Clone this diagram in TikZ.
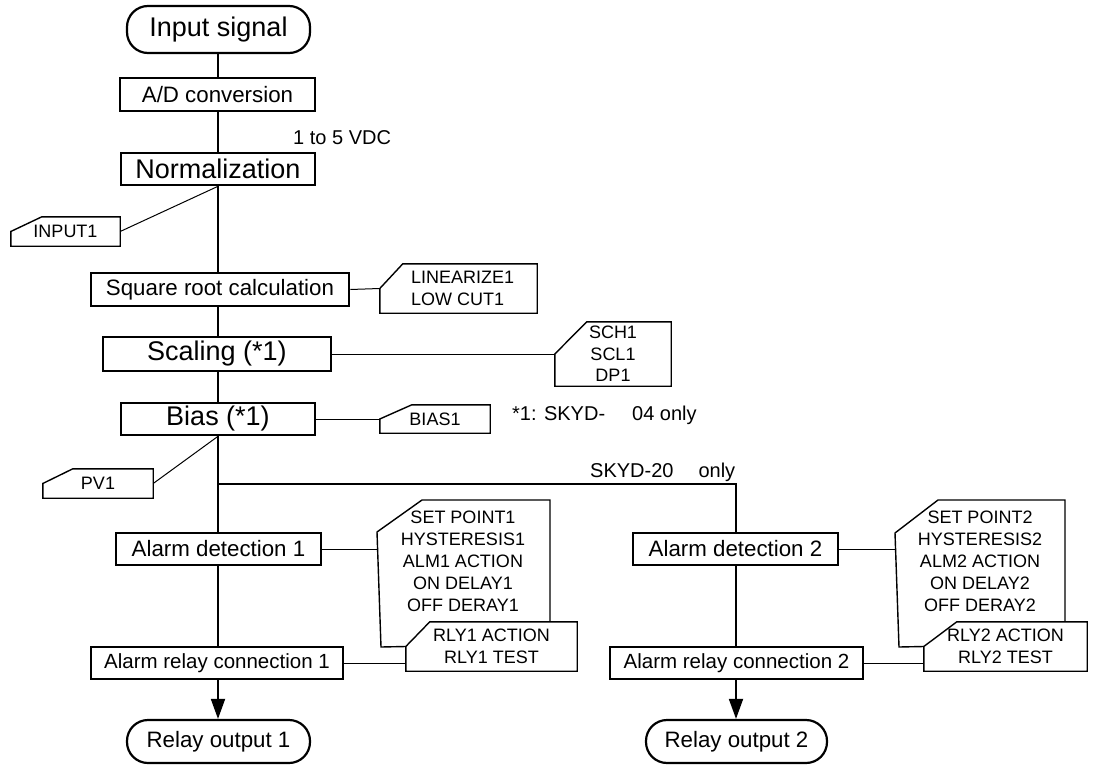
\documentclass[tikz,border=0pt]{standalone}
\usepackage{fontspec}
\setmainfont{Liberation Sans}
\usetikzlibrary{arrows.meta,calc}

% outline of a parameter box whose upper-left corner is cut off
\newcommand{\cutframe}[2]{%
  \draw[pframe] (#1.west) -- ([xshift=#2pt]#1.north west) -- (#1.north east)
    -- (#1.south east) -- (#1.south west) -- cycle;}

\begin{document}
\begin{tikzpicture}[x=1pt,y=-1pt,
  proc/.style={draw,line width=2.6pt,inner sep=0pt,minimum height=33pt},
  term/.style={draw,line width=2.2pt,rounded corners=21pt,inner sep=0pt},
  big/.style={font=\fontsize{27}{32}\selectfont},
  mid/.style={font=\fontsize{22.3}{26}\selectfont},
  small/.style={font=\fontsize{20.5}{24}\selectfont},
  ptext/.style={font=\fontsize{18}{21.5}\selectfont,align=center,inner sep=0pt},
  pbox/.style={ptext,draw=none},
  pframe/.style={line width=1.4pt,line join=miter},
  flow/.style={line width=1.8pt},
  tie/.style={line width=1pt},
  note/.style={font=\fontsize{20}{24}\selectfont,inner sep=0pt}
]
\fill[white] (0,0) rectangle (1095,765);
\useasboundingbox (0,0) rectangle (1095,765);

% columns of the two signal paths
\coordinate (col) at (218,0);
\coordinate (col2) at (736,0);
\coordinate (br) at (218,484);

% main processing chain
\node[term,big,minimum width=183pt,minimum height=47pt] (ins) at (218.5,29.5) {Input signal};
\node[proc,mid,minimum width=195pt] (ad) at (217.5,94.5) {A/D conversion};
\node[proc,big,minimum width=194pt,minimum height=32pt] (norm) at (218,169) {Normalization};
\node[proc,mid,minimum width=258pt] (sq) at (220,289.5) {Square root calculation};
\node[proc,big,minimum width=228pt,minimum height=34pt] (sc) at (217,354) {Scaling (*1)};
\node[proc,big,minimum width=194pt,minimum height=32pt] (bias) at (218,419) {Bias (*1)};
\node[proc,mid,minimum width=205pt,minimum height=32pt] (ad1) at (218.5,549) {Alarm detection 1};
\node[proc,small,minimum width=252pt,minimum height=32pt] (ar1) at (217,663) {Alarm relay connection 1};
\node[term,mid,minimum width=183pt,minimum height=43pt] (ro1) at (218.5,741.5) {Relay output 1};

\node[proc,mid,minimum width=205pt,minimum height=32pt] (ad2) at (735.5,549) {Alarm detection 2};
\node[proc,small,minimum width=253pt,minimum height=32pt] (ar2) at (736.5,663) {Alarm relay connection 2};
\node[term,mid,minimum width=181pt,minimum height=43pt] (ro2) at (736.5,741.5) {Relay output 2};

% parameter boxes
\node[pbox,minimum width=109pt,minimum height=29pt] (input1) at (65.5,231.5) {INPUT1};
\cutframe{input1}{31}
\node[pbox,minimum width=157pt,minimum height=49pt] (lin) at (458.5,288.5) {};
\cutframe{lin}{23}
\node[ptext,align=left,anchor=west] (lintext) at (411,288.5) {LINEARIZE1\\LOW CUT1};
\node[pbox,minimum width=116pt,minimum height=64pt] (sch) at (613,354) {SCH1\\SCL1\\DP1};
\cutframe{sch}{32}
\node[pbox,minimum width=110pt,minimum height=28pt] (bias1) at (435,419) {BIAS1};
\cutframe{bias1}{32}
\node[pbox,minimum width=110pt,minimum height=29pt] (pv1) at (98,483.5) {PV1};
\cutframe{pv1}{30}

\node[pbox,minimum width=171pt,minimum height=49pt] (rly1) at (491.5,646.5) {RLY1 ACTION\\RLY1 TEST};
\cutframe{rly1}{24}
\node[ptext,font=\fontsize{18}{22}\selectfont] (set1) at (463,561)
  {SET POINT1\\HYSTERESIS1\\ALM1 ACTION\\ON DELAY1\\OFF DERAY1};
\draw[pframe] (rly1.north -| 550,0) -- (550,500) -- (422,500) -- (377,532) -- (381,647) -- (rly1.west);
\coordinate (s1w) at (377.6,549);

\node[pbox,minimum width=163pt,minimum height=49pt] (rly2) at (1005.5,646.5) {RLY2 ACTION\\RLY2 TEST};
\cutframe{rly2}{33}
\node[ptext,font=\fontsize{18}{22}\selectfont] (set2) at (980,561)
  {SET POINT2\\HYSTERESIS2\\ALM2 ACTION\\ON DELAY2\\OFF DERAY2};
\draw[pframe] (rly2.north -| 1065,0) -- (1065,500) -- (938,500) -- (895,533) -- (899,647) -- (rly2.west);
\coordinate (s2w) at (895.6,549);

% notes
\node[note,anchor=base west] (vdc) at (293,145) {1 to 5 VDC};
\node[note,anchor=base west] (fn) at (512,420) {*1: SKYD-\hspace{27pt}04 only};
\node[note,anchor=base west] (only2) at (590,477) {SKYD-20\hspace{25pt}only};

% signal flow
\draw[flow] (col |- ins.south) -- (col |- ad.north);
\draw[flow] (col |- ad.south) -- (col |- norm.north);
\draw[flow] (col |- norm.south) -- (col |- sq.north);
\draw[flow] (col |- sq.south) -- (col |- sc.north);
\draw[flow] (col |- sc.south) -- (col |- bias.north);
\draw[flow] (col |- bias.south) -- (col |- ad1.north);
\draw[flow] (br) -| (col2 |- ad2.north);
\draw[flow] (col |- ad1.south) -- (col |- ar1.north);
\draw[flow,-{Triangle[length=20pt,width=14pt]}] (col |- ar1.south) -- (col |- ro1.north);
\draw[flow] (col2 |- ad2.south) -- (col2 |- ar2.north);
\draw[flow,-{Triangle[length=20pt,width=14pt]}] (col2 |- ar2.south) -- (col2 |- ro2.north);

% parameter ties
\draw[tie] (input1.east) -- (col |- norm.south);
\draw[tie] (sq.east) -- (lin.west);
\draw[tie] (sc.east) -- (sch.west);
\draw[tie] (bias.east) -- (bias1.west);
\draw[tie] (pv1.east) -- (col |- bias.south);
\draw[tie] (ad1.east) -- (s1w);
\draw[tie] (ar1.east) -- (ar1.east -| rly1.west);
\draw[tie] (ad2.east) -- (s2w);
\draw[tie] (ar2.east) -- (ar2.east -| rly2.west);
\end{tikzpicture}
\end{document}
